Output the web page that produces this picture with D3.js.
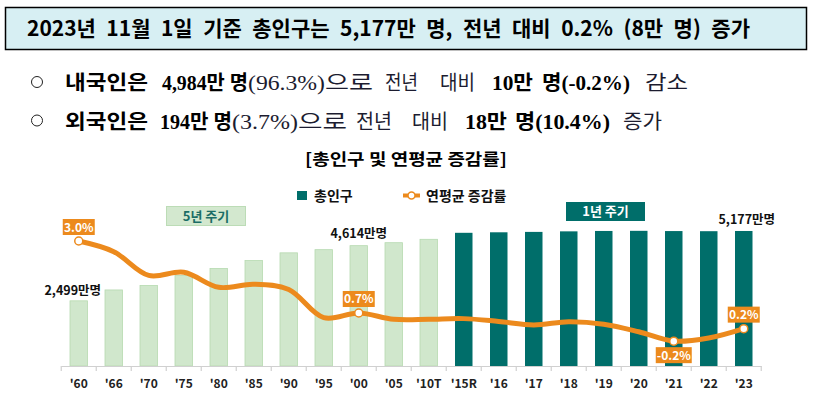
<!DOCTYPE html>
<html>
<head>
<meta charset="utf-8">
<script src="https://cdn.jsdelivr.net/npm/d3@7"></script>
<style>
	html, body { margin: 0; padding: 0; background: #fff; }
	svg { display: block; }
</style>
</head>
<body>
<svg id="chart"></svg>
<script>
const years = ["'60", "'66", "'70", "'75", "'80", "'85", "'90", "'95", "'00", "'05", "'10T",
	"'15R", "'16", "'17", "'18", "'19", "'20", "'21", "'22", "'23"];
// 총인구 (만명)
const population = [2499, 2916, 3088, 3468, 3741, 4042, 4339, 4461, 4614, 4728, 4858,
	5107, 5127, 5142, 5163, 5178, 5183, 5174, 5169, 5177];
// 연평균 증감률 (%)
const growthRate = [3.0, 2.66, 1.9, 2.0, 1.52, 1.62, 1.45, 0.55, 0.7, 0.5, 0.5,
	0.52, 0.43, 0.32, 0.42, 0.34, 0.1, -0.2, -0.1, 0.2];
const fiveYearCats = years.slice(0, 11);
const popLabelYears = ["'60", "'00", "'23"];
const rateLabelYears = ["'60", "'00", "'21", "'23"];

const title = '2023년 11월 1일 기준 총인구는 5,177만 명, 전년 대비 0.2% (8만 명) 증가';
const chartTitle = '[총인구 및 연평균 증감률]';
const bullets = [
	[['내국인은', 1], ['4,984만 명', 1], ['(96.3%)', 0], ['으로', 0], ['전년', 0], ['대비', 0],
		['10만', 1], ['명(-0.2%)', 1], ['감소', 0]],
	[['외국인은', 1], ['194만 명', 1], ['(3.7%)', 0], ['으로', 0], ['전년', 0], ['대비', 0],
		['18만', 1], ['명(10.4%)', 1], ['증가', 0]],
];

const colors = {
	teal: '#006e6a',
	lightBar: '#d0e7cc',
	lightStroke: '#b6dab0',
	orange: '#ec8a1d',
	text: '#1a1a1a',
};
const sans = '"Noto Sans CJK KR", "Noto Sans", sans-serif';
const serif = '"Liberation Serif", "Noto Sans CJK KR", serif';

const W = 814, H = 394;
const svg = d3.select('#chart').attr('width', W).attr('height', H);

// 상단 제목 박스
svg.append('rect')
	.attr('x', 5.5).attr('y', 7.5)
	.attr('width', 801).attr('height', 42)
	.attr('fill', '#d7eff3')
	.attr('stroke', '#000')
	.attr('stroke-width', 1.5);

const head = svg.append('text')
	.attr('x', 27).attr('y', 35.5)
	.attr('font-family', sans)
	.attr('font-weight', 'bold')
	.attr('font-size', 21)
	.attr('fill', '#000')
	.text(title);
{
	const len = head.node().getComputedTextLength();
	const spaces = title.split(' ').length - 1;
	head.attr('word-spacing', Math.max(0, (723 - len) / spaces));
}

// 요약 문장
const segX = [
	[[65, 148], [162, 248], [248, 325], [325, 373], [385, 418], [440, 475], [492, 533], [542, 630], [645, 688]],
	[[65, 148], [160, 232], [232, 298], [298, 347], [356, 392], [412, 448], [465, 507], [515, 610], [623, 662]],
];
const lineY = [90, 128.5];
bullets.forEach((segs, li) => {
	svg.append('circle')
		.attr('cx', 37).attr('cy', lineY[li] - 8)
		.attr('r', 5.5)
		.attr('fill', 'none')
		.attr('stroke', '#222')
		.attr('stroke-width', 1);
	segs.forEach(([txt, bold], si) => {
		const [x0, x1] = segX[li][si];
		svg.append('text')
			.attr('x', x0).attr('y', lineY[li])
			.attr('font-family', serif)
			.attr('font-weight', bold ? 'bold' : 'normal')
			.attr('font-size', 20)
			.attr('fill', bold ? '#000' : '#1c1c30')
			.attr('textLength', x1 - x0)
			.attr('lengthAdjust', 'spacingAndGlyphs')
			.text(txt);
	});
});

// 차트 제목
svg.append('text')
	.attr('x', 305).attr('y', 164.5)
	.attr('font-family', sans)
	.attr('font-weight', 'bold')
	.attr('font-size', 16)
	.attr('fill', '#000')
	.attr('textLength', 202)
	.attr('lengthAdjust', 'spacingAndGlyphs')
	.text(chartTitle);

// 스케일
const baseY = 366;
const x = d3.scaleBand()
	.domain(years)
	.range([61.25, 761.25])
	.paddingInner(0.5)
	.paddingOuter(0.25);
const y = d3.scaleLinear()
	.domain([0, 6000])
	.range([baseY, baseY - 6000 * 0.02608]);
const yRate = d3.scaleLinear()
	.domain([-1, 4])
	.range([366.2, 209.7]);
const cx = d => x(d) + x.bandwidth() / 2;

// 막대
svg.append('g')
	.selectAll('rect')
	.data(years)
	.join('rect')
	.attr('x', d => x(d))
	.attr('y', (d, i) => y(population[i]))
	.attr('width', x.bandwidth())
	.attr('height', (d, i) => baseY - y(population[i]))
	.attr('fill', d => fiveYearCats.includes(d) ? colors.lightBar : colors.teal)
	.attr('stroke', d => fiveYearCats.includes(d) ? colors.lightStroke : 'none')
	.attr('stroke-width', 0.8);

// x축
const axis = svg.append('g')
	.attr('transform', `translate(0,${baseY})`)
	.call(d3.axisBottom(x).tickSize(0).tickPadding(13));
axis.select('.domain')
	.attr('stroke', '#d0d0d0')
	.attr('stroke-width', 1.2);
axis.selectAll('.tick text')
	.attr('font-family', sans)
	.attr('font-weight', 'bold')
	.attr('font-size', 12)
	.attr('fill', '#222');
axis.append('g')
	.selectAll('line')
	.data(d3.range(years.length + 1))
	.join('line')
	.attr('x1', i => x.range()[0] + i * x.step())
	.attr('x2', i => x.range()[0] + i * x.step())
	.attr('y1', 0)
	.attr('y2', 5)
	.attr('stroke', '#d0d0d0')
	.attr('stroke-width', 1.2);

// 인구 라벨
const popLabelDx = { "'60": -6, "'00": 0, "'23": 3 };
const popLabelDy = { "'60": -6, "'00": -8, "'23": -7 };
svg.append('g')
	.selectAll('text')
	.data(popLabelYears)
	.join('text')
	.attr('x', d => cx(d) + popLabelDx[d])
	.attr('y', d => y(population[years.indexOf(d)]) + popLabelDy[d])
	.attr('text-anchor', 'middle')
	.attr('font-family', sans)
	.attr('font-weight', 'bold')
	.attr('font-size', 12.5)
	.attr('fill', '#111')
	.text(d => d3.format(',')(population[years.indexOf(d)]) + '만명');

// 증감률 선
const line = d3.line()
	.x(d => cx(d))
	.y((d, i) => yRate(growthRate[i]))
	.curve(d3.curveCatmullRom.alpha(0.5));
svg.append('path')
	.datum(years)
	.attr('d', line)
	.attr('fill', 'none')
	.attr('stroke', colors.orange)
	.attr('stroke-width', 5)
	.attr('stroke-linecap', 'round');

svg.append('g')
	.selectAll('circle')
	.data(rateLabelYears)
	.join('circle')
	.attr('cx', d => cx(d))
	.attr('cy', d => yRate(growthRate[years.indexOf(d)]))
	.attr('r', 4)
	.attr('fill', '#fff')
	.attr('stroke', colors.orange)
	.attr('stroke-width', 1.5);

const pill = svg.append('g')
	.selectAll('g')
	.data(rateLabelYears)
	.join('g')
	.attr('transform', d => {
		const v = growthRate[years.indexOf(d)];
		const dy = v < 0 ? 14 : -14;
		return `translate(${cx(d)},${yRate(v) + dy})`;
	});
pill.append('rect')
	.attr('x', d => growthRate[years.indexOf(d)] < 0 ? -18 : -16)
	.attr('y', -8)
	.attr('width', d => growthRate[years.indexOf(d)] < 0 ? 36 : 32)
	.attr('height', 16)
	.attr('fill', colors.orange);
pill.append('text')
	.attr('y', 4.5)
	.attr('text-anchor', 'middle')
	.attr('font-family', sans)
	.attr('font-weight', 'bold')
	.attr('font-size', 12)
	.attr('fill', '#fff')
	.text(d => growthRate[years.indexOf(d)].toFixed(1) + '%');

// 주기 박스
svg.append('rect')
	.attr('x', 166.5).attr('y', 206.5)
	.attr('width', 79).attr('height', 19)
	.attr('fill', '#d3e8cf')
	.attr('stroke', '#bcdcb6');
svg.append('text')
	.attr('x', 206).attr('y', 220.5)
	.attr('text-anchor', 'middle')
	.attr('font-family', sans)
	.attr('font-weight', 'bold')
	.attr('font-size', 13)
	.attr('fill', '#1b6d66')
	.text('5년 주기');
svg.append('rect')
	.attr('x', 566).attr('y', 202)
	.attr('width', 79).attr('height', 19)
	.attr('fill', colors.teal);
svg.append('text')
	.attr('x', 605.5).attr('y', 216)
	.attr('text-anchor', 'middle')
	.attr('font-family', sans)
	.attr('font-weight', 'bold')
	.attr('font-size', 13)
	.attr('fill', '#fff')
	.text('1년 주기');

// 범례
svg.append('rect')
	.attr('x', 297).attr('y', 191)
	.attr('width', 10).attr('height', 9)
	.attr('fill', colors.teal);
svg.append('text')
	.attr('x', 314).attr('y', 201)
	.attr('font-family', sans)
	.attr('font-weight', 'bold')
	.attr('font-size', 14)
	.attr('fill', '#111')
	.text('총인구');
svg.append('line')
	.attr('x1', 403).attr('x2', 420)
	.attr('y1', 195.5).attr('y2', 195.5)
	.attr('stroke', colors.orange)
	.attr('stroke-width', 4);
svg.append('circle')
	.attr('cx', 411.5).attr('cy', 195.5)
	.attr('r', 3.5)
	.attr('fill', '#fff')
	.attr('stroke', colors.orange)
	.attr('stroke-width', 1.5);
svg.append('text')
	.attr('x', 426).attr('y', 201)
	.attr('font-family', sans)
	.attr('font-weight', 'bold')
	.attr('font-size', 14)
	.attr('fill', '#111')
	.text('연평균 증감률');
</script>
</body>
</html>
